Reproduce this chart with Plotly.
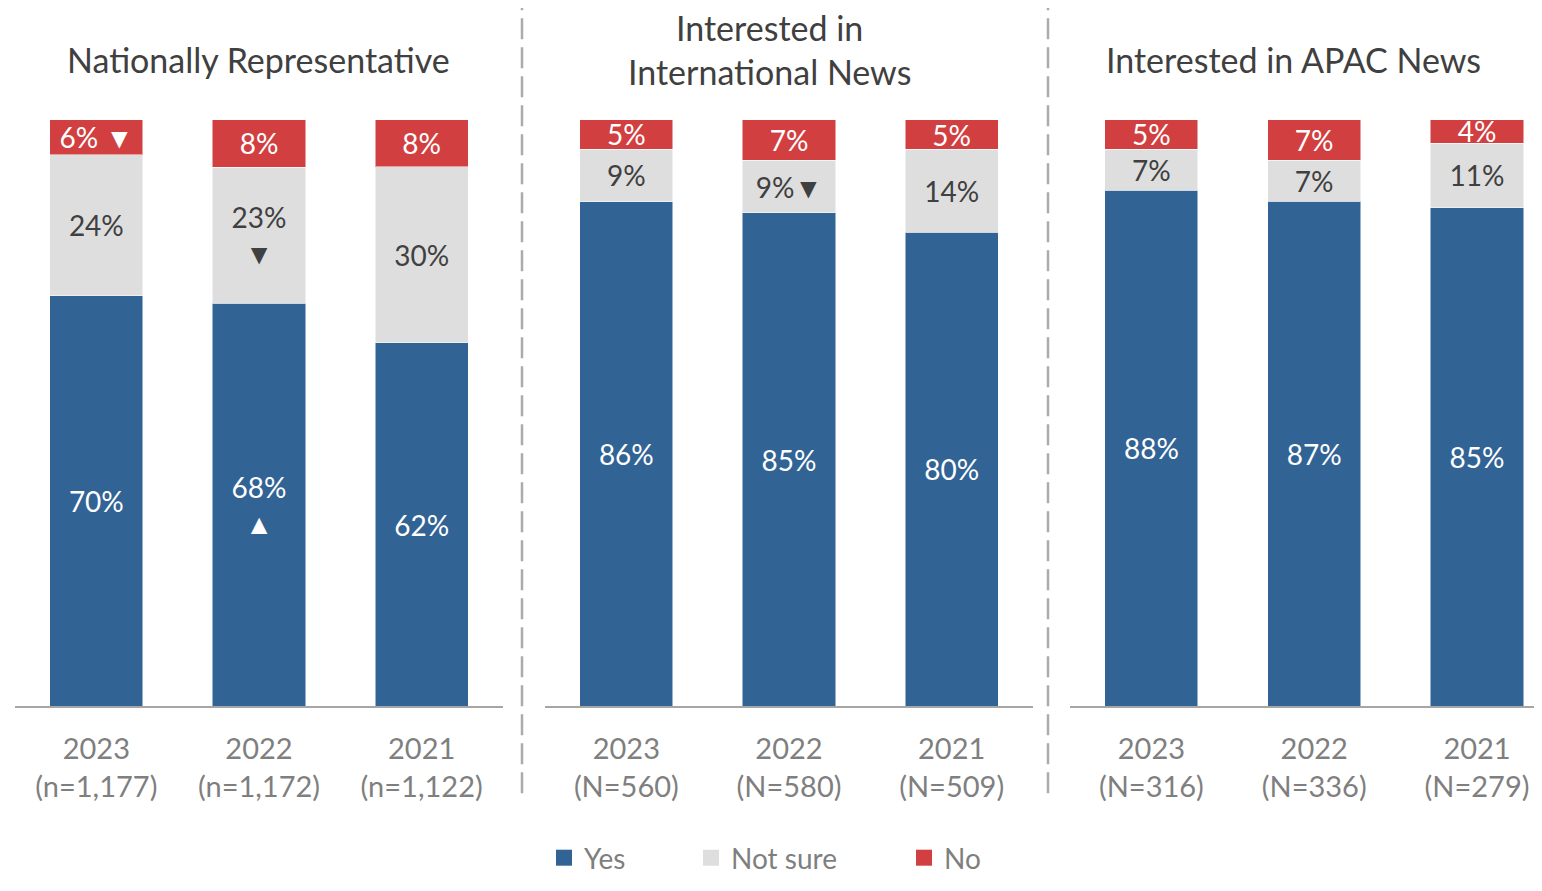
import plotly.graph_objects as go

# ---------------- data ----------------
panels = ["Nationally Representative", "Interested in<br>International News", "Interested in APAC News"]
tick_labels = [
    ["2023<br>(n=1,177)", "2022<br>(n=1,172)", "2021<br>(n=1,122)"],
    ["2023<br>(N=560)", "2022<br>(N=580)", "2021<br>(N=509)"],
    ["2023<br>(N=316)", "2022<br>(N=336)", "2021<br>(N=279)"],
]
yes_vals = [[70, 68, 62], [86, 85, 80], [88, 87, 85]]
notsure_vals = [[24, 23, 30], [9, 9, 14], [7, 7, 11]]
no_vals = [[6, 8, 8], [5, 7, 5], [5, 7, 4]]
# significance markers appended to labels
yes_marks = [["", "<br>▲", ""], ["", "", ""], ["", "", ""]]
notsure_marks = [["", "<br>▼", ""], ["", "▼", ""], ["", "", ""]]
no_marks = [[" ▼", "", ""], ["", "", ""], ["", "", ""]]

C_YES = "#316395"
C_NS = "#DEDEDE"
C_NO = "#D13F41"
FONT = "Lato"

# page-pixel -> paper mapping (plot area occupies the page inside body margins)
OX, OY, W, H = 8, 8, 1526, 862
def fx(px):
    return (px - OX) / W
def fy(py):
    return 1 - (py - OY) / H

fig = go.Figure()

x_domains = [[fx(15), fx(503)], [fx(545), fx(1033)], [fx(1070), 1.0]]
x_ranges = [[-0.5, 2.5], [-0.5, 2.5], [-0.5, 2.35]]
Y_DOM = [fy(708), fy(120)]

series = [
    ("Yes", yes_vals, yes_marks, C_YES, "white", "legend"),
    ("Not sure", notsure_vals, notsure_marks, C_NS, "#404040", "legend2"),
    ("No", no_vals, no_marks, C_NO, "white", "legend3"),
]

for p in range(3):
    xa = "x" if p == 0 else f"x{p+1}"
    ya = "y" if p == 0 else f"y{p+1}"
    for name, vals, marks, col, tcol, leg in series:
        texts = [f"{v}%{m}" for v, m in zip(vals[p], marks[p])]
        fig.add_trace(go.Bar(
            x=[0, 1, 2], y=vals[p], name=name, xaxis=xa, yaxis=ya,
            marker=dict(color=col, line=dict(color="rgba(255,255,255,0.5)", width=1)),
            text=texts, texttemplate="%{text}", textposition="inside",
            insidetextanchor="middle", textangle=0,
            textfont=dict(color=tcol, size=28, family=FONT),
            showlegend=False, legendgroup=name, hoverinfo="skip",
        ))

# legend entries (square swatches)
for name, vals, marks, col, tcol, leg in series:
    fig.add_trace(go.Scatter(
        x=[None], y=[None], mode="markers", name=name, legend=leg,
        marker=dict(symbol="square", size=17, color=col),
        legendgroup=name, showlegend=True, hoverinfo="skip",
    ))

layout = dict(
    barmode="stack", barnorm="percent", bargap=0.428,
    paper_bgcolor="white", plot_bgcolor="white",
    margin=dict(l=0, r=0, t=0, b=0),
    font=dict(family=FONT, color="#404040"),
    uniformtext=dict(minsize=28, mode="show"),
)
for p in range(3):
    sx = "" if p == 0 else str(p + 1)
    layout[f"xaxis{sx}"] = dict(
        domain=x_domains[p], range=x_ranges[p],
        tickmode="array", tickvals=[0, 1, 2], ticktext=tick_labels[p],
        tickfont=dict(size=29, color="#7F7F7F", family=FONT),
        showline=True, linecolor="#A6A6A6", linewidth=1.5,
        ticks="outside", ticklen=16, tickcolor="rgba(0,0,0,0)",
        showgrid=False, zeroline=False, fixedrange=True,
        anchor="y" if p == 0 else f"y{p+1}",
    )
    layout[f"yaxis{sx}"] = dict(
        domain=Y_DOM, range=[0, 100], visible=False, fixedrange=True,
        anchor="x" if p == 0 else f"x{p+1}",
    )

leg_common = dict(orientation="h", yanchor="middle", y=fy(860), xanchor="left",
                  font=dict(size=28, color="#7F7F7F", family=FONT),
                  bgcolor="rgba(0,0,0,0)", itemwidth=30)
layout["legend"] = dict(leg_common, x=fx(544))
layout["legend2"] = dict(leg_common, x=fx(691))
layout["legend3"] = dict(leg_common, x=fx(904))
fig.update_layout(**layout)

# panel titles
title_pos = [(258, [(60, "Nationally Representative")]),
             (769, [(28, "Interested in"), (72, "International News")]),
             (1293, [(60, "Interested in APAC News")])]
for xc, lines in title_pos:
    for yp, txt in lines:
        fig.add_annotation(x=fx(xc), y=fy(yp), xref="paper", yref="paper",
                           text=txt, showarrow=False, xanchor="center", yanchor="middle",
                           font=dict(size=34, color="#404040", family=FONT))

# dashed separators
for xs in (522, 1048):
    fig.add_shape(type="line", xref="paper", yref="paper",
                  x0=fx(xs), x1=fx(xs), y0=fy(795), y1=1.0,
                  line=dict(color="#ABABAB", width=2.5, dash="21px,8px"))

fig.write_html("out.html")
